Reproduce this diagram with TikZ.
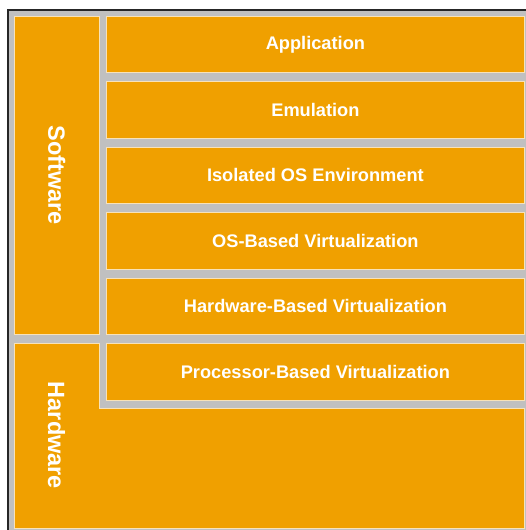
\documentclass[tikz,border=0pt]{standalone}
\usepackage{fontspec}
\setmainfont{Liberation Sans}
\usetikzlibrary{positioning}
\definecolor{layerorange}{HTML}{F0A000}
\definecolor{gapgray}{HTML}{C0C0C0}
\definecolor{edgecream}{HTML}{F8E2B8}

\tikzset{
  layer/.style={draw=edgecream, line width=0.8bp, fill=layerorange, text=white,
    font=\fontsize{18.3}{20}\selectfont\bfseries, inner sep=0pt,
    minimum width=418bp, minimum height=56.5bp, anchor=north west},
  sidelabel/.style={rotate=-90, text=white, font=\fontsize{23.6}{25}\selectfont\bfseries, inner sep=0pt}
}

\begin{document}
\begin{tikzpicture}[x=1bp,y=-1bp]
    \useasboundingbox (0,0) rectangle (526,530);
    % grey ground and frame
    \fill[gapgray] (8,10) rectangle (526,530);
    \draw[line width=1.5bp, black!85] (8,530) -- (8,10) -- (526,10);

    % software column
    \node[layer, minimum width=85bp, minimum height=318bp] (software) at (14,16) {};
    \node[sidelabel] (swlabel) at (software.center) {Software};

    % hardware block (L shape)
    \draw[draw=edgecream, line width=0.8bp, fill=layerorange]
        (14,343) -- (99,343) -- (99,408) -- (524,408) -- (524,528) -- (14,528) -- cycle;
    \node[sidelabel] (hwlabel) at (56.5,435.5) {Hardware};

    % layers
    \foreach \lbl [count=\i from 0] in {Application, Emulation, Isolated OS Environment,
        OS-Based Virtualization, Hardware-Based Virtualization, Processor-Based Virtualization} {
        \node[layer] (layer\i) at (106,{16+65.4*\i}) {\lbl};
    }
\end{tikzpicture}
\end{document}
